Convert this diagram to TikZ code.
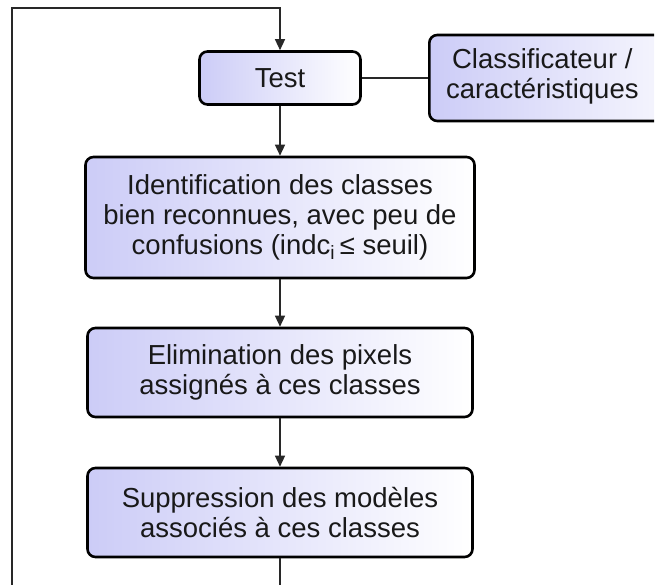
\documentclass[tikz,border=0pt]{standalone}
\usepackage{fontspec}
\setmainfont{Liberation Sans}
\usetikzlibrary{arrows.meta}
\definecolor{boxleft}{RGB}{204,204,247}
\definecolor{linegray}{RGB}{40,40,40}
\begin{document}
\begin{tikzpicture}[x=1pt,y=-1pt,
  box/.style={draw=black, line width=2.6pt, rounded corners=8pt,
    left color=boxleft, right color=white, align=center, inner sep=0pt,
    font=\fontsize{27.5}{30}\selectfont, text=black!90},
  conn/.style={draw=linegray, line width=1.3pt},
  arr/.style={conn, -{Triangle[width=10pt,length=11pt]}}]
\useasboundingbox (0,0) rectangle (655,585);
\clip (0,0) rectangle (654,585);
\fill[white] (0,0) rectangle (655,585);
\node[box, minimum width=290pt, minimum height=86pt, anchor=west] (classif) at (428,78)
  {\begin{tabular}{@{}c@{\hspace{64pt}}}Classificateur /\\caractéristiques\end{tabular}};
\node[box, minimum width=161pt, minimum height=53pt] (test) at (280,78) {Test};
\node[box, minimum width=389pt, minimum height=121pt] (ident) at (280,217.5)
  {Identification des classes\\bien reconnues, avec peu de\\confusions (indc\textsubscript{i}\,≤ seuil)};
\node[box, minimum width=385pt, minimum height=89pt] (elim) at (280,372.5)
  {Elimination des pixels\\assignés à ces classes};
\node[box, minimum width=385pt, minimum height=89pt] (supp) at (280,512.5)
  {Suppression des modèles\\associés à ces classes};
\coordinate (lb) at (280,600);
\coordinate (ll) at (12,600);
\coordinate (tl) at (12,8);
\coordinate (tr) at (280,8);
\draw[conn] (test.east) -- (classif.west);
\draw[arr] (test) -- (ident);
\draw[arr] (ident) -- (elim);
\draw[arr] (elim) -- (supp);
\draw[arr] (supp.south) -- (lb) -- (ll) -- (tl) -- (tr) -- (test.north);
\end{tikzpicture}
\end{document}
